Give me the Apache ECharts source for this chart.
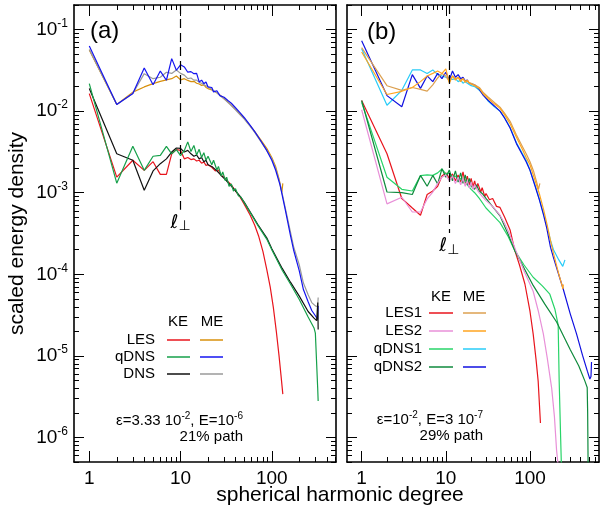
<!DOCTYPE html>
<html><head><meta charset="utf-8">
<script src="https://cdn.jsdelivr.net/npm/echarts@6/dist/echarts.min.js"></script>
<style>html,body{margin:0;padding:0;background:#fff}#c{width:606px;height:515px}</style>
</head><body><div id="c"></div>
<script>
// ---------- tick values ----------
var X_MAJOR = [1, 10, 100];
var X_MINOR_A = [2,3,4,5,6,7,8,9,20,30,40,50,60,70,80,90,200,300,400,500];
var X_MINOR_B = [2,3,4,5,6,7,8,9,20,30,40,50,60,70,80,90,200,300,400,500,600];
var Y_MAJOR = [1e-6, 1e-5, 1e-4, 1e-3, 1e-2, 1e-1];
var MANTISSA = [2,3,4,5,6,7,8,9];
var Y_DECADES = [1e-7, 1e-6, 1e-5, 1e-4, 1e-3, 1e-2, 1e-1];

// ---------- panel (a) data ----------
var L20 = [1,2,3,4,5,6,7,8,9,10,11,12,13,14,15,16,17,18,19,20];

var A_LES_KE_L = L20.concat([22,24,26,28,30,33,36,40,45,50,58,65,72,80,88,96,104,112,120,126,132]);
var A_LES_KE = [0.0164,0.00155,0.0025,0.00188,0.0024,0.00168,0.00168,0.003,0.00337,0.0033,0.0026,0.0027,0.00255,0.0026,0.00245,0.0025,0.0023,0.00238,0.00216,0.0022,
  0.00205,0.00185,0.0019,0.00162,0.00155,0.00138,0.00125,0.00105,0.00088,0.00072,0.00053,0.0004,0.00029,0.00019,0.000115,0.00007,0.000039,0.00002,0.00001,0.0000058,0.0000034];

var A_QDNS_KE_L = L20.concat([22,23,25,26,28,29,31,32,34,36,38,40,43,46,50,58,70,88,100,130,160,200,250,290,300,318,322]);
var A_QDNS_KE = [0.0217,0.00131,0.0037,0.00188,0.0028,0.00287,0.0037,0.003,0.00337,0.00285,0.0033,0.0042,0.0032,0.0038,0.0029,0.0034,0.0027,0.0031,0.0025,0.0028,
  0.0022,0.0025,0.0019,0.0021,0.0016,0.0018,0.0014,0.00155,0.0012,0.00128,0.00105,0.00112,0.00092,0.00088,0.00075,0.00057,0.0004,0.00027,0.0002,0.000112,0.000076,0.000049,0.00003,0.000022,0.000019,0.0000041,0.0000028];

var A_DNS_KE_L = L20.concat([22,25,28,30,35,40,45,50,58,70,88,100,130,160,200,250,290,310,316,319,322]);
var A_DNS_KE = [0.019,0.003,0.0025,0.00107,0.00185,0.00227,0.0026,0.00315,0.00353,0.0035,0.00315,0.0033,0.003,0.0028,0.0029,0.0026,0.0027,0.0024,0.0025,0.0022,
  0.0021,0.00185,0.00162,0.0015,0.00125,0.00105,0.0009,0.00076,0.00058,0.00041,0.00028,0.000205,0.000118,0.00008,0.000054,0.000035,0.000029,0.000027,0.000028,0.000045,0.000021];

var A_LES_ME_L = L20.concat([22,25,28,30,35,40,45,50,58,65,75,88,100,110,120,126,129,132]);
var A_LES_ME = [0.056,0.0121,0.0171,0.0198,0.0217,0.0232,0.0242,0.025,0.027,0.0242,0.025,0.0238,0.023,0.0232,0.022,0.0215,0.0207,0.021,0.0195,0.0189,
  0.0182,0.0168,0.0152,0.0142,0.0122,0.0105,0.0092,0.0081,0.0066,0.0056,0.0045,0.0035,0.0027,0.0021,0.00148,0.00112,0.00102,0.0013];

var A_DNS_ME_L = L20.concat([22,25,28,30,35,40,45,50,58,65,75,88,100,110,123,140,160,173,200,222,250,274,300,318,322]);
var A_DNS_ME = [0.057,0.0121,0.0165,0.0288,0.025,0.026,0.03,0.029,0.032,0.029,0.0276,0.025,0.0255,0.024,0.024,0.0225,0.022,0.021,0.0205,0.0198,
  0.0185,0.0168,0.015,0.0142,0.012,0.0104,0.009,0.008,0.0065,0.0055,0.0043,0.0033,0.0026,0.002,0.0013,0.00066,0.00033,0.00022,0.00013,0.000078,0.000056,0.000045,0.000041,0.00004,0.000052];

var A_QDNS_ME_L = L20.concat([22,23,25,27,30,33,36,40,45,50,58,65,75,88,100,110,123,140,160,173,200,222,250,274,300,318,322]);
var A_QDNS_ME = [0.063,0.0121,0.0164,0.0338,0.0211,0.031,0.0239,0.044,0.0317,0.037,0.0348,0.03,0.0305,0.0288,0.029,0.0228,0.024,0.0217,0.0228,0.0198,
  0.0195,0.0172,0.0178,0.0155,0.0148,0.0135,0.0125,0.011,0.0095,0.0083,0.0067,0.0056,0.0044,0.0033,0.0025,0.0019,0.00125,0.00063,0.0003,0.0002,0.00011,0.000065,0.000046,0.000036,0.000031,0.000028,0.000041];

// ---------- panel (b) data ----------
var B_QDNS2_ME_L = L20.concat([22,25,28,32,38,44,50,58,69,80,90,100,115,130,145,157,175,190,220,248,300,357,420,480,514,530,538]);
var B_QDNS2_ME = [0.073,0.0155,0.0113,0.028,0.019,0.027,0.023,0.029,0.025,0.030,0.024,0.031,0.026,0.028,0.025,0.026,0.0235,0.024,0.022,0.022,
  0.021,0.0185,0.0155,0.0135,0.0115,0.010,0.0082,0.0062,0.004,0.003,0.0024,0.00188,0.0012,0.0008,0.00053,0.00038,0.000215,0.00016,0.000098,0.000066,0.000033,0.0000186,0.0000102,0.0000065,0.0000052,0.0000056,0.0000084];

var B_QDNS1_ME_L = L20.concat([22,25,28,32,38,44,50,58,69,80,90,100,115,130,145,160,175,190,220,245,255,260]);
var B_QDNS1_ME = [0.058,0.0118,0.018,0.032,0.032,0.029,0.032,0.028,0.027,0.026,0.025,0.0245,0.025,0.023,0.024,0.022,0.023,0.022,0.021,0.0205,
  0.02,0.018,0.016,0.0132,0.0112,0.01,0.0083,0.0063,0.0041,0.0031,0.0025,0.0019,0.00123,0.00082,0.00055,0.00038,0.00026,0.0002,0.00015,0.000125,0.00012,0.00015];

var B_LES1_ME_L = L20.concat([22,25,28,32,38,44,50,58,69,80,90,100,110,120,126,129,131]);
var B_LES1_ME = [0.06,0.0205,0.018,0.0195,0.0185,0.0176,0.021,0.0255,0.029,0.027,0.023,0.027,0.025,0.026,0.024,0.025,0.0235,0.023,0.0225,0.022,
  0.021,0.0195,0.0168,0.0148,0.0127,0.0112,0.0094,0.0075,0.0051,0.0038,0.003,0.0024,0.00185,0.00135,0.0011,0.00107,0.0013];

var B_LES2_ME_L = L20.concat([22,25,28,32,38,44,50,58,69,80,90,100,115,130,145,160,175,190,220,240,246,249]);
var B_LES2_ME = [0.053,0.016,0.0175,0.0195,0.023,0.027,0.029,0.031,0.029,0.033,0.022,0.027,0.024,0.026,0.023,0.025,0.0225,0.024,0.022,0.0215,
  0.0205,0.019,0.0162,0.0142,0.0122,0.0108,0.009,0.007,0.0048,0.0035,0.0027,0.0022,0.0014,0.00095,0.00062,0.0004,0.00026,0.00018,0.0001,0.000073,0.000066,0.000075];

var B_LES1_KE_L = L20.concat([21,22,23,24,26,27,29,30,33,36,40,44,50,58,66,75,87,100,109,118,125,133]);
var B_LES1_KE = [0.0135,0.003,0.00085,0.00065,0.00053,0.00095,0.00105,0.0012,0.0016,0.00175,0.0015,0.0017,0.0014,0.00165,0.00135,0.0018,0.0013,0.0016,0.00125,0.0015,
  0.00118,0.0014,0.00112,0.0013,0.00102,0.00115,0.0009,0.00098,0.00082,0.00085,0.00068,0.00066,0.0005,0.00035,0.000195,0.00013,0.000076,0.000035,0.0000186,0.000009,0.0000049,0.0000015];

var B_LES2_KE_L = L20.concat([21,22,24,25,27,28,30,35,44,50,58,68,85,109,125,144,160,181,195,207,216]);
var B_LES2_KE = [0.0104,0.00073,0.00088,0.00058,0.00058,0.00084,0.00102,0.0013,0.00155,0.00165,0.0014,0.0016,0.0013,0.00155,0.00125,0.0015,0.0012,0.0014,0.00115,0.00135,
  0.0011,0.00125,0.00105,0.0011,0.0009,0.00095,0.0008,0.0007,0.00053,0.00042,0.0003,0.000195,0.00011,0.000062,0.000036,0.0000186,0.0000095,0.000004,0.0000018,0.00000069,0.00000045];

var B_QDNS1_KE_L = L20.concat([22,25,30,35,44,55,66,85,109,140,172,198,216,222,230,236]);
var B_QDNS1_KE = [0.0128,0.00155,0.0011,0.00105,0.00162,0.00165,0.00163,0.00175,0.00195,0.0017,0.00175,0.00155,0.0016,0.00145,0.0015,0.00135,0.0014,0.00125,0.0013,0.0011,
  0.001,0.00085,0.00065,0.00055,0.00043,0.00029,0.000195,0.00013,0.000092,0.000072,0.000057,0.000037,0.000024,0.000005,0.0000012,0.00000045];

var B_QDNS2_KE_L = L20.concat([22,23,25,27,30,35,44,55,66,109,150,207,300,380,449,478,484,490]);
var B_QDNS2_KE = [0.0135,0.00102,0.001,0.00095,0.00163,0.0012,0.00163,0.00128,0.00197,0.00155,0.0019,0.0014,0.00185,0.00135,0.00175,0.0013,0.00165,0.00125,0.0015,0.0012,
  0.0011,0.00125,0.00105,0.00098,0.00085,0.0007,0.00052,0.00031,0.000195,0.000073,0.000043,0.000026,0.000012,0.0000075,0.0000049,0.0000041,0.000002,0.00000045];

// ---------- build ----------
var FF = "'Liberation Sans', Arial, sans-serif";
var yMinor = [];
Y_DECADES.forEach(function(d){ MANTISSA.forEach(function(m){ yMinor.push(m*d); }); });

function pairs(xs, ys){ return xs.map(function(x,i){ return [x, ys[i]]; }); }

function xAx(grid, pos, min, max, vals, major, labels){
  return {type:'log', logBase:10, gridIndex:grid, position:pos, min:min, max:max,
    axisLine:{show:major, onZero:false, lineStyle:{color:'#000', width:1.6}},
    axisTick:{show:true, inside:true, length: major?11:5, customValues: vals, lineStyle:{color:'#000', width:1}},
    axisLabel: labels ? {show:true, customValues: vals, color:'#000', fontSize:19, fontFamily:FF, margin:7,
       formatter:function(v){ return String(Math.round(v)); }} : {show:false},
    splitLine:{show:false}, minorTick:{show:false}, minorSplitLine:{show:false}};
}
function yAx(grid, pos, vals, major, labels, extra){
  var o = {type:'log', logBase:10, gridIndex:grid, position:pos, min:5e-7, max:0.2,
    axisLine:{show:major, onZero:false, lineStyle:{color:'#000', width:1.6}},
    axisTick:{show:true, inside:true, length: major?10:5, customValues: vals, lineStyle:{color:'#000', width:1}},
    axisLabel: labels ? {show:true, customValues: vals, margin:6,
       formatter:function(v){ var e=Math.round(Math.log10(v)); return '{b|10}{s|'+e+'}'; },
       rich:{b:{fontSize:19, fontFamily:FF, color:'#000', lineHeight:24}, s:{fontSize:12, fontFamily:FF, color:'#000', verticalAlign:'top'}}} : {show:false},
    splitLine:{show:false}, minorTick:{show:false}, minorSplitLine:{show:false}};
  if (extra) for (var k in extra) o[k]=extra[k];
  return o;
}

var xAxes = [
  xAx(0,'bottom',0.68,505,X_MAJOR,true,true),
  xAx(0,'bottom',0.68,505,X_MINOR_A,false,false),
  xAx(0,'top',0.68,505,X_MAJOR,true,false),
  xAx(0,'top',0.68,505,X_MINOR_A,false,false),
  xAx(1,'bottom',0.67,660,X_MAJOR,true,true),
  xAx(1,'bottom',0.67,660,X_MINOR_B,false,false),
  xAx(1,'top',0.67,660,X_MAJOR,true,false),
  xAx(1,'top',0.67,660,X_MINOR_B,false,false)
];
var yAxes = [
  yAx(0,'left',Y_MAJOR,true,true,{name:'scaled energy density', nameLocation:'middle', nameGap:46,
     nameTextStyle:{fontSize:21, fontFamily:FF, color:'#000'}}),
  yAx(0,'left',yMinor,false,false),
  yAx(0,'right',Y_MAJOR,true,false),
  yAx(0,'right',yMinor,false,false),
  yAx(1,'left',Y_MAJOR,true,false),
  yAx(1,'left',yMinor,false,false),
  yAx(1,'right',Y_MAJOR,true,false),
  yAx(1,'right',yMinor,false,false)
];

function line(name, xs, ys, color, panel, extra){
  var o = {type:'line', name:name, xAxisIndex: panel*4, yAxisIndex: panel*4, data: pairs(xs, ys),
    showSymbol:false, symbol:'none', clip:true, animation:false,
    lineStyle:{color:color, width:1.2}, itemStyle:{color:color}};
  if (extra) for (var k in extra) o[k]=extra[k];
  return o;
}
function perpMark(x, yEnd){
  return {symbol:['none','none'], silent:true, animation:false,
    lineStyle:{type:[9,5], color:'#000', width:1.2},
    label:{show:true, position:'end', distance:2, formatter:'{l|\u2113}{p|\u22A5}',
      rich:{l:{fontSize:19, fontFamily:'DejaVu Sans', color:'#000', lineHeight:22},
            p:{fontSize:14, fontFamily:'DejaVu Sans', color:'#000', verticalAlign:'bottom', lineHeight:14}}},
    data:[[{coord:[x, 0.2]}, {coord:[x, yEnd]}]]};
}

var C = {
  red:'#e8141c', gold:'#d8900c', green:'#16a04a', blue:'#1414f0', black:'#111111', gray:'#9a9a9a',
  pink:'#e890d8', lgreen:'#28d468', dgreen:'#0f8a3c', tan:'#dca050', orange:'#ffa520', cyan:'#28ccf8', navy:'#1010e0'
};

var series = [
  line('LES ME', A_LES_ME_L, A_LES_ME, C.gold, 0),
  line('DNS ME', A_DNS_ME_L, A_DNS_ME, C.gray, 0),
  line('qDNS ME', A_QDNS_ME_L, A_QDNS_ME, C.blue, 0),
  line('LES KE', A_LES_KE_L, A_LES_KE, C.red, 0, {markLine: perpMark(10, 6.2e-4)}),
  line('DNS KE', A_DNS_KE_L, A_DNS_KE, C.black, 0),
  line('qDNS KE', A_QDNS_KE_L, A_QDNS_KE, C.green, 0),

  line('qDNS1 ME', B_QDNS1_ME_L, B_QDNS1_ME, C.cyan, 1),
  line('qDNS2 ME', B_QDNS2_ME_L, B_QDNS2_ME, C.navy, 1),
  line('LES1 ME', B_LES1_ME_L, B_LES1_ME, C.tan, 1),
  line('LES2 ME', B_LES2_ME_L, B_LES2_ME, C.orange, 1),
  line('LES1 KE', B_LES1_KE_L, B_LES1_KE, C.red, 1, {markLine: perpMark(11, 3.2e-4)}),
  line('qDNS1 KE', B_QDNS1_KE_L, B_QDNS1_KE, C.lgreen, 1),
  line('qDNS2 KE', B_QDNS2_KE_L, B_QDNS2_KE, C.dgreen, 1),
  line('LES2 KE', B_LES2_KE_L, B_LES2_KE, C.pink, 1)
];

function txt(x, y, s, size, align, extra){
  var st = {text:s, fontSize:size, fontFamily:FF, fill:'#000', align:align||'left', textAlign:align||'left', verticalAlign:'middle', textVerticalAlign:'middle'};
  if (extra) for (var k in extra) st[k]=extra[k];
  return {type:'text', x:x, y:y, silent:true, style:st};
}
function seg(x1, x2, y, color){
  return {type:'line', silent:true, shape:{x1:x1, y1:y, x2:x2, y2:y}, style:{stroke:color, lineWidth:1.5}};
}
var supRich = {n:{fontSize:15, fontFamily:FF, fill:'#000', color:'#000', lineHeight:20}, s:{fontSize:10, fontFamily:FF, fill:'#000', color:'#000', verticalAlign:'top'}};

var graphics = [
  txt(90, 31, '(a)', 24, 'left'),
  txt(367, 32, '(b)', 24, 'left'),
  txt(340, 495, 'spherical harmonic degree', 21, 'center'),
  // legend (a)
  txt(178, 322, 'KE', 15, 'center'), txt(212, 322, 'ME', 15, 'center'),
  txt(155, 340, 'LES', 15, 'right'), seg(167, 190, 340, C.red), seg(200, 223, 340, C.gold),
  txt(155, 357, 'qDNS', 15, 'right'), seg(167, 190, 357, C.green), seg(200, 223, 357, C.blue),
  txt(155, 374, 'DNS', 15, 'right'), seg(167, 190, 374, C.black), seg(200, 223, 374, C.gray),
  txt(243, 421, '{n|\u03B5=3.33 10}{s|-2}{n|, E=10}{s|-6}', 15, 'right', {rich:supRich}),
  txt(243, 437, '21% path', 15, 'right'),
  // legend (b)
  txt(441, 297, 'KE', 15, 'center'), txt(474, 297, 'ME', 15, 'center'),
  txt(422, 313, 'LES1', 15, 'right'), seg(429, 453, 313, C.red), seg(463, 486, 313, C.tan),
  txt(422, 331, 'LES2', 15, 'right'), seg(429, 453, 331, C.pink), seg(463, 486, 331, C.orange),
  txt(422, 349, 'qDNS1', 15, 'right'), seg(429, 453, 349, C.lgreen), seg(463, 486, 349, C.cyan),
  txt(422, 367, 'qDNS2', 15, 'right'), seg(429, 453, 367, C.dgreen), seg(463, 486, 367, C.navy),
  txt(483, 420, '{n|\u03B5=10}{s|-2}{n|, E=3 10}{s|-7}', 15, 'right', {rich:supRich}),
  txt(483, 436, '29% path', 15, 'right')
];

var chart = echarts.init(document.getElementById('c'), null, {renderer:'canvas'});
chart.setOption({
  animation:false,
  backgroundColor:'#fff',
  grid:[
    {left:74, top:5, width:262, height:457, containLabel:false, outerBoundsMode:'none'},
    {left:347, top:5, width:252, height:457, containLabel:false, outerBoundsMode:'none'}
  ],
  xAxis: xAxes,
  yAxis: yAxes,
  series: series,
  graphic: graphics
});
</script>
</body></html>
